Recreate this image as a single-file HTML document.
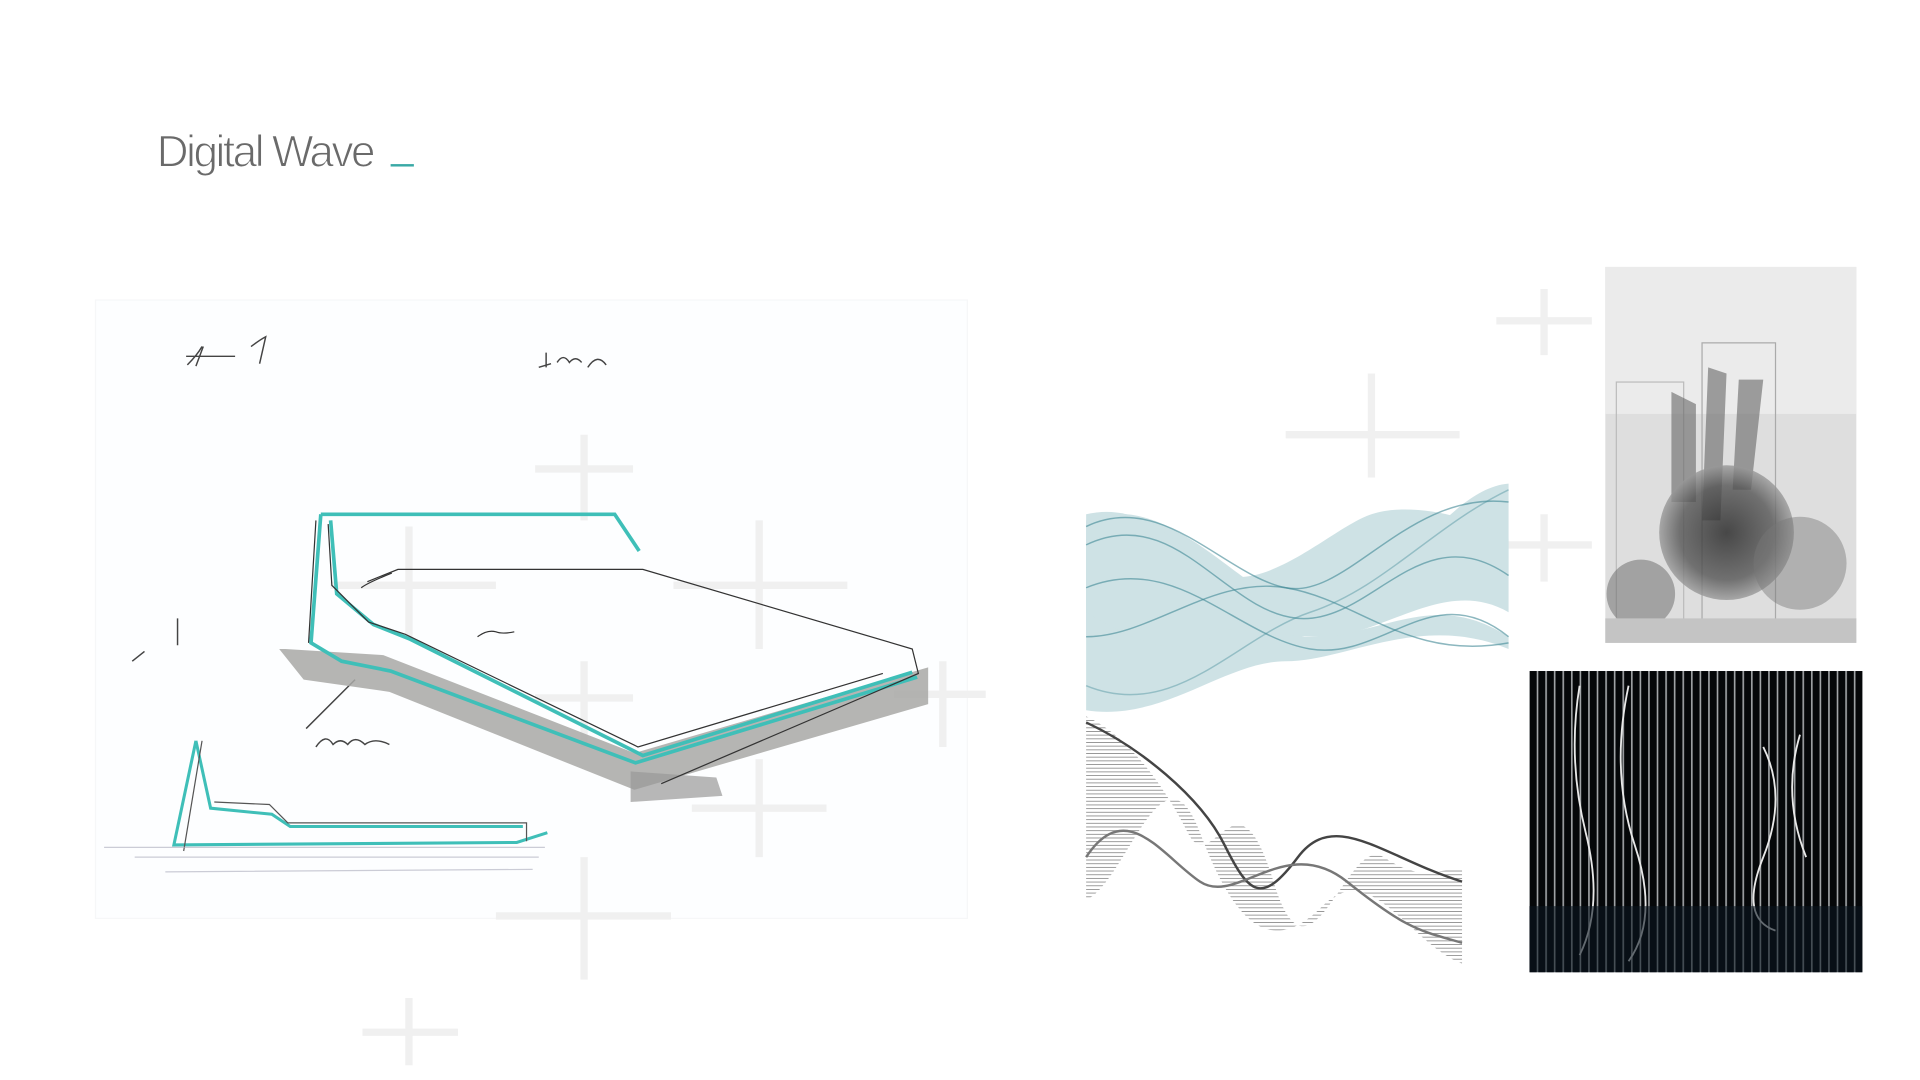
<!DOCTYPE html>
<html><head><meta charset="utf-8"><style>
html,body{margin:0;padding:0;background:#fff;width:1920px;height:1080px;overflow:hidden}
svg{display:block}
</style></head><body>
<svg width="1920" height="1080" viewBox="0 0 1568 882" xmlns="http://www.w3.org/2000/svg">
<defs>
<pattern id="vl" width="7" height="20" patternUnits="userSpaceOnUse"><rect width="7" height="20" fill="#07090c"/><rect x="2" width="1.3" height="20" fill="#cfd3d6"/></pattern>
<pattern id="gl" width="3" height="3" patternUnits="userSpaceOnUse"><rect width="3" height="3" fill="#fff"/><rect width="3" height="0.7" fill="#666"/></pattern>
<radialGradient id="cg" cx="0.5" cy="0.5" r="0.5"><stop offset="0" stop-color="#222"/><stop offset="0.7" stop-color="#555"/><stop offset="1" stop-color="#999"/></radialGradient>
</defs>
<!-- title -->
<text x="128" y="136" font-family="Liberation Sans, sans-serif" font-size="36" fill="#6a6a6a" stroke="#fff" stroke-width="0.9" letter-spacing="-2">Digital Wave</text>
<rect x="319" y="134" width="19" height="2" fill="#3aa9a6"/>
<!-- sketch paper -->
<rect x="78" y="245" width="712" height="505" fill="#fdfeff" stroke="#f6f7f8"/>
<!-- faint pluses -->
<g stroke="#f0f0f0" stroke-width="6" fill="none">
<path d="M1261 236v54M1222 262h78"/>
<path d="M1120 305v110M1050 355h142"/>
<path d="M477 355v70M437 383h80"/>
<path d="M620 425v105M550 478h142"/>
<path d="M477 540v70M437 570h80"/>
<path d="M620 620v80M565 660h110"/>
<path d="M477 700v100M405 748h143"/>
<path d="M334 815v55M296 843h78"/>
<path d="M1261 420v55M1222 445h78"/>
<path d="M770 540v70M730 567h75"/>
<path d="M334 430v90M270 478h135"/>
</g>
<g fill="none" stroke="#444" stroke-width="1.2">
<path d="M153 298q8-8 12-15M160 299l6-16M152 291h40M205 283q8-6 12-8l-5 22"/>
<path d="M440 300l10-3M446 288v12M455 296q5-8 10 0q5-6 10 0M480 300q8-12 15-2"/>
<path d="M108 540l10-8M145 505v22"/>
<path d="M250 595l40-40M258 610q8-12 14-2q6-6 12 0q6-8 14 0q8-6 20 0"/>
</g>
<!-- base grey shadow -->
<path d="M228 530l20 25 70 10 200 80 240-70v-30l-240 70-205-80-80-5z" fill="#a8a8a6" opacity="0.85"/>
<path d="M515 630l70 5 5 15-75 5z" fill="#999" opacity="0.7"/>
<!-- bed outlines -->
<g fill="none" stroke="#3fbfb8" stroke-width="3">
<path d="M262 420l-8 105 25 15 40 8 200 75 230-70"/>
<path d="M262 420h240l20 30"/>
<path d="M270 425l5 60 30 25 30 12 190 95 220-68"/>
</g>
<g fill="none" stroke="#333" stroke-width="1">
<path d="M258 425l-6 100M268 428l3 50 30 30 30 10 190 92 200-60"/>
<path d="M300 475l25-10 200 0 220 65 5 20-210 90"/>
<path d="M320 468q-20 8-25 12"/>
<path d="M390 520q8-6 15-4q5 2 15 0"/>
</g>
<!-- small side bed -->
<g fill="none" stroke="#3fbfb8" stroke-width="2.5">
<path d="M160 605l-18 85 280-2 25-8"/>
<path d="M160 605l12 55 50 5 15 10h190"/>
</g>
<g fill="none" stroke="#555" stroke-width="1">
<path d="M165 605l-15 90M175 655l45 2 15 15h195v15"/>
<path d="M85 692h360M110 700h330M135 712l300-2" stroke="#aab" opacity="0.6"/>
</g>
<!-- teal waves -->
<rect x="887" y="390" width="345" height="193" fill="#fff"/>
<g fill="none" stroke="#3f8795" stroke-width="1.2">
<path d="M887 430 C950 400 1000 470 1050 480 S1150 400 1232 410" opacity="0.6"/>
<path d="M887 445 C960 410 1000 500 1060 505 S1160 420 1232 470" opacity="0.6"/>
<path d="M887 480 C960 450 1010 520 1070 530 S1170 470 1232 520" opacity="0.6"/>
<path d="M887 520 C940 520 990 470 1050 480 S1150 540 1232 525" opacity="0.6"/>
<path d="M887 560 C960 590 1010 520 1070 500 S1170 430 1232 400" opacity="0.4"/>
</g>
<g fill="#3f8d99" opacity="0.25">
<path d="M887 425 C950 400 1000 470 1060 500 S1170 400 1232 395 V470 C1160 420 1100 520 1060 520 S950 450 887 470z"/>
<path d="M887 470 C950 470 1010 520 1070 520 S1170 480 1232 520 V530 C1160 500 1100 540 1050 540 S950 590 887 580z"/>
<path d="M887 440 C930 430 960 460 1000 470 S1090 430 1120 420 S1200 420 1232 440 V500 C1180 470 1130 520 1080 520 S950 500 887 520z"/>
<path d="M887 420 C930 410 960 440 990 470 V520 C960 540 920 520 887 500z"/>
</g>
<!-- grey waves -->
<g>
<path d="M887 585 C920 600 950 640 970 680 S1010 620 1040 720 S1100 680 1130 700 S1170 710 1194 710 V787 C1150 770 1120 700 1080 740 S1010 760 980 680 S920 720 887 735z" fill="url(#gl)" opacity="0.75"/>
<path d="M887 590 C930 610 980 650 1000 690 S1030 740 1060 700 S1130 700 1194 720" fill="none" stroke="#444" stroke-width="2"/>
<path d="M887 700 C920 650 950 700 980 720 S1050 680 1100 720 S1160 760 1194 770" fill="none" stroke="#777" stroke-width="2"/>
</g>
<!-- top right photo -->
<rect x="1311" y="218" width="205" height="307" fill="#dedede"/>
<rect x="1311" y="218" width="205" height="120" fill="#ebebeb"/>
<rect x="1320" y="312" width="55" height="200" fill="none" stroke="#bbb"/>
<rect x="1390" y="280" width="60" height="230" fill="none" stroke="#aaa"/>
<path d="M1365 320l20 10v80h-20zM1395 300l15 5-5 120h-15zM1420 310h20l-10 90h-15z" fill="#666" opacity="0.6"/>
<circle cx="1410" cy="435" r="55" fill="url(#cg)" opacity="0.8"/>
<circle cx="1470" cy="460" r="38" fill="#777" opacity="0.45"/>
<circle cx="1340" cy="485" r="28" fill="#666" opacity="0.5"/>
<rect x="1311" y="505" width="205" height="20" fill="#c4c4c4"/>
<!-- bottom right photo -->
<rect x="1249" y="548" width="272" height="246" fill="url(#vl)"/>
<rect x="1249" y="548" width="272" height="246" fill="#000" opacity="0.2"/>
<g fill="none" stroke="#e8e8e8" stroke-width="1.5">
<path d="M1290 560q-10 60 5 120t-5 100"/>
<path d="M1330 560q-15 70 5 130t-5 95"/>
<path d="M1440 610q20 40 0 90t10 60"/>
<path d="M1470 600q-15 50 5 100"/>
</g>
<rect x="1249" y="740" width="272" height="54" fill="#0a1520" opacity="0.6"/>
</svg>
</body></html>
